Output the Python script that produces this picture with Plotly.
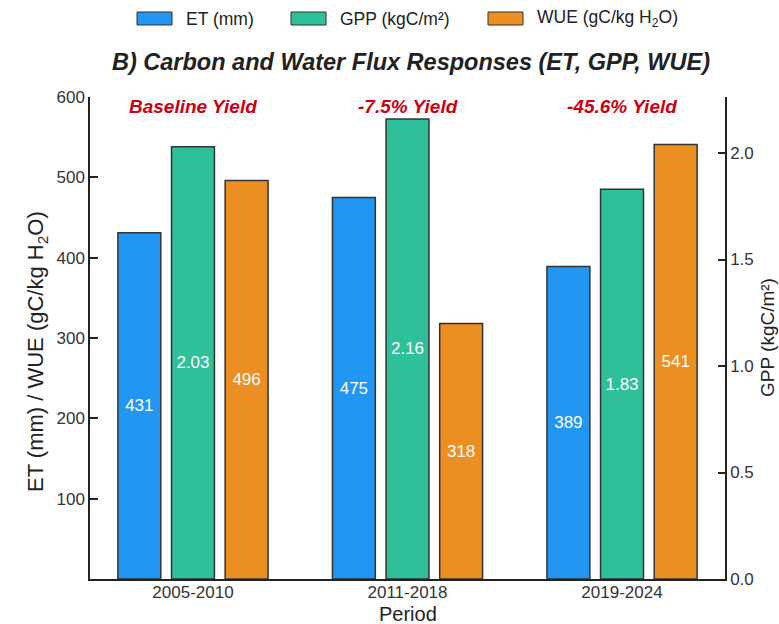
import plotly.graph_objects as go

periods = ["2005-2010", "2011-2018", "2019-2024"]
et_mm = [431, 475, 389]
gpp_kgc = [2.03, 2.16, 1.83]
wue = [496, 318, 541]
yield_labels = ["Baseline Yield", "-7.5% Yield", "-45.6% Yield"]
series_names = ["ET (mm)", "GPP (kgC/m²)", "WUE (gC/kg H<sub>2</sub>O)"]

c_et = "#2196F3"
c_gpp = "#2EBF9B"
c_wue = "#EB8F22"
colors = [c_et, c_gpp, c_wue]
edge = dict(color="#333333", width=1.5)
font_family = "Liberation Sans, Arial, sans-serif"
txt = "#222222"

W, H = 779, 624
L, R, T, B = 90, 54, 97, 45
pw, ph = W - L - R, H - T - B


def px(x):
    return (x - L) / pw


def py(y):
    return (H - B - y) / ph


fig = go.Figure()
specs = [(et_mm, "y", -0.35, [str(v) for v in et_mm]),
         (gpp_kgc, "y2", -0.1, [f"{v:.2f}" for v in gpp_kgc]),
         (wue, "y", 0.15, [str(v) for v in wue])]
for (vals, ax, off, labels), name, col in zip(specs, series_names, colors):
    fig.add_trace(go.Bar(
        x=periods, y=vals, name=name, marker=dict(color=col, line=edge),
        width=0.2, offset=off, text=labels, textposition="inside", textangle=0,
        insidetextanchor="middle", textfont=dict(color="white", size=17),
        yaxis=ax, showlegend=False, hoverinfo="skip"))

# yield annotations
for i, lab in enumerate(yield_labels):
    fig.add_annotation(x=i, y=py(106), xref="x", yref="paper", text=f"<b><i>{lab}</i></b>",
                       showarrow=False, font=dict(color="#CC0011", size=19),
                       xanchor="center", yanchor="middle")

# custom legend (wide boxes)
leg_boxes = [137, 291, 488]
for bx, name, col in zip(leg_boxes, series_names, colors):
    fig.add_shape(type="rect", xref="paper", yref="paper",
                  x0=px(bx), x1=px(bx + 35), y0=py(12), y1=py(25),
                  fillcolor=col, line=dict(color="#333333", width=1))
    fig.add_annotation(x=px(bx + 47), y=py(19), xref="paper", yref="paper",
                       text=name, showarrow=False, xanchor="left", yanchor="middle",
                       font=dict(size=17.5, color=txt))

# axis titles
fig.add_annotation(x=px(37), y=py(352), xref="paper", yref="paper",
                   text="ET (mm) / WUE (gC/kg H<sub>2</sub>O)", textangle=-90,
                   showarrow=False, font=dict(size=22, color=txt),
                   xanchor="center", yanchor="middle")
fig.add_annotation(x=px(767), y=0.5, xref="paper", yref="paper",
                   text="GPP (kgC/m²)", textangle=-90,
                   showarrow=False, font=dict(size=19, color=txt),
                   xanchor="center", yanchor="middle")
fig.add_annotation(x=px(408), y=py(614), xref="paper", yref="paper",
                   text="Period", showarrow=False, font=dict(size=20, color=txt),
                   xanchor="center", yanchor="middle")

axis_common = dict(showline=True, linecolor="#222222", linewidth=1.5, showgrid=False,
                   zeroline=False, automargin=False, tickfont=dict(size=17, color="#333333"))

fig.update_layout(
    width=W, height=H,
    margin=dict(l=L, r=R, t=T, b=B),
    plot_bgcolor="white", paper_bgcolor="white",
    font=dict(family=font_family, color=txt, size=17),
    title=dict(text="<b><i>B) Carbon and Water Flux Responses (ET, GPP, WUE)</i></b>",
               x=411 / W, xanchor="center", y=1 - 62 / H, yanchor="middle",
               font=dict(size=23.5, color=txt)),
    barmode="overlay",
    showlegend=False,
    hovermode=False,
    xaxis=dict(range=[-0.48, 2.48], ticks="", ticklabelstandoff=-3, **axis_common),
    yaxis=dict(range=[0, 600], tickvals=[100, 200, 300, 400, 500, 600],
               ticks="inside", ticklen=8, tickwidth=1.5, tickcolor="#222222",
               **axis_common),
    yaxis2=dict(range=[0, 2.263], tickvals=[0, 0.5, 1.0, 1.5, 2.0], tickformat=".1f",
                overlaying="y", side="right", ticks="inside", ticklen=7, tickwidth=1.5,
                tickcolor="#222222", **axis_common),
)

fig.write_html("out.html", config={"displayModeBar": False},
               post_script="document.body.style.margin='0';document.body.style.padding='0';")
